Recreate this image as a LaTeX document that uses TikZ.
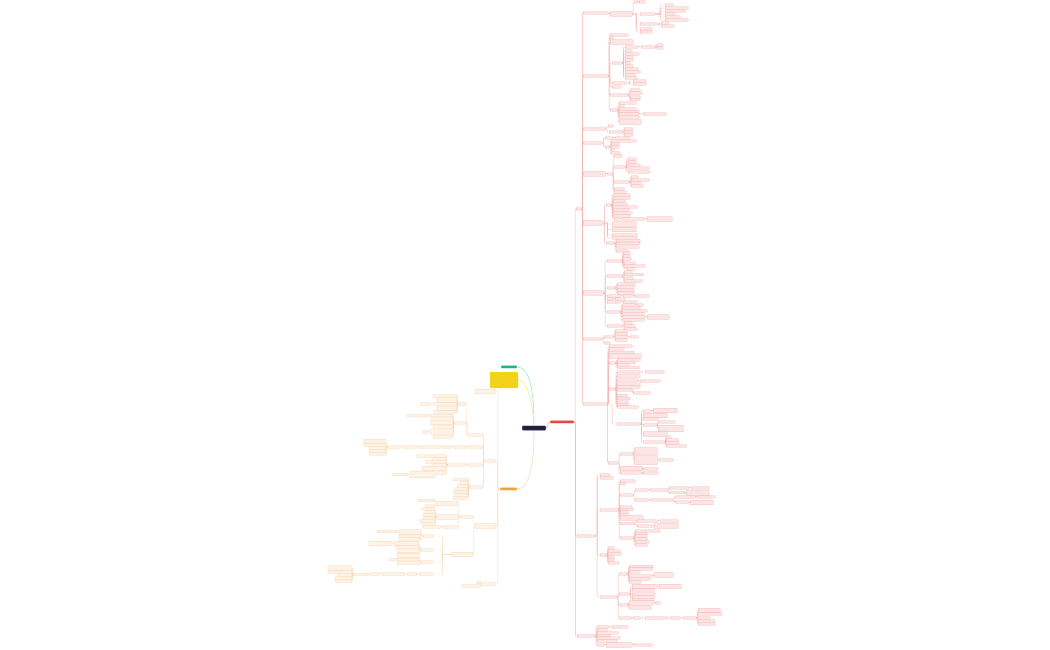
\documentclass[tikz,border=0pt]{standalone}
\usetikzlibrary{calc}
\definecolor{navy}{HTML}{1F2140}
\definecolor{gGreen}{HTML}{20B57E}
\definecolor{rRed}{HTML}{E8483F}
\definecolor{oOr}{HTML}{F0A23C}
\definecolor{yel}{HTML}{F3D21A}
\definecolor{rB}{HTML}{F4AFAB}
\definecolor{rF}{HTML}{FCE6E5}
\definecolor{rL}{HTML}{F5B3AF}
\definecolor{oB}{HTML}{F6D2A8}
\definecolor{oF}{HTML}{FEF3E6}
\definecolor{oL}{HTML}{F8D9B8}
\definecolor{gL}{HTML}{A6E3CB}
\definecolor{yL}{HTML}{F6E7A0}
\tikzset{
 rbox/.style={draw=rB, fill=rF, line width=0.25pt, rounded corners=0.4pt, inner sep=0pt, minimum height=2.3pt},
 obox/.style={draw=oB, fill=oF, line width=0.25pt, rounded corners=0.4pt, inner sep=0pt, minimum height=2.3pt},
 tl/.style={minimum height=4.6pt},
 t3/.style={minimum height=6.6pt},
 t4/.style={minimum height=9pt},
 rline/.style={draw=rL, line width=0.4pt, rounded corners=0.8pt},
 oline/.style={draw=oL, line width=0.4pt, rounded corners=0.8pt},
 rootbox/.style={inner sep=0pt, minimum height=3.2pt, rounded corners=0.8pt, draw=white, line width=0.3pt}
}
\newcommand\Rk[6][]{%
  \node[rbox,#1,minimum width=#6pt,anchor=west] (#2) at (#4,#5) {};
  \draw[rline] (#3.east) -| ($(#3.east)!.5!(#2.west)$) |- (#2.west);}
\newcommand\Lk[6][]{%
  \node[obox,#1,minimum width=#6pt,anchor=east] (#2) at (#4,#5) {};
  \draw[oline] (#3.west) -| ($(#3.west)!.5!(#2.east)$) |- (#2.east);}
\begin{document}
\begin{tikzpicture}[x=1pt,y=-1pt]
\useasboundingbox (0,0) rectangle (1050,650);
\fill[white] (0,0) rectangle (1050,650);
% roots
\node[rootbox, fill=navy, minimum width=24pt, minimum height=5pt] (ctr) at (534,428) {};
\node[rootbox, fill=gGreen, minimum width=16pt] (gn) at (509,367) {};
\node[fill=yel, minimum width=28pt, minimum height=16pt, inner sep=0pt, rounded corners=0.8pt] (yb) at (504,380) {};
\node[rootbox, fill=rRed, minimum width=24pt] (rr) at (562,422) {};
\node[rootbox, fill=oOr, minimum width=17pt] (oo) at (508.5,489) {};
\draw[gL, line width=0.6pt] (ctr.north) .. controls (534,385) and (528,367) .. (gn.east);
\draw[yL, line width=0.6pt] (ctr.north) .. controls (532,395) and (526,380) .. (yb.east);
\draw[rL, line width=0.6pt] (ctr.east) .. controls (548.5,428) and (547.5,422) .. (rr.west);
\draw[oL, line width=0.6pt] (ctr.south) .. controls (534,470) and (528,489) .. (oo.east);
% ===== right tree =====
\Rk{r1}{rr}{576}{209}{6}
\Rk{r2}{rr}{577}{536}{17}
\Rk{r3}{rr}{577}{636}{18}
% a
\Rk{a}{r1}{583}{13}{25}
\Rk[tl]{a1}{a}{610}{14}{22}
\Rk{a11}{a1}{634}{2}{4}
\Rk{a111}{a11}{639}{2}{6}
\Rk{a12}{a1}{640}{14}{15}
\Rk{a121}{a12}{665}{5}{8}
\Rk{a122}{a12}{665}{8}{23}
\Rk{a123}{a12}{665}{11}{20}
\Rk{a124}{a12}{665}{14}{10}
\Rk{a125}{a12}{665}{17}{15}
\Rk{a126}{a12}{665}{20}{23}
\Rk{a13}{a1}{640}{24}{17}
\Rk{a131}{a13}{661}{23}{7}
\Rk{a132}{a13}{661}{26}{13}
\Rk{a14}{a1}{640}{29}{12}
\Rk{a15}{a1}{640}{32}{12}
% b
\Rk{b}{r1}{583}{76}{25}
\Rk{b1}{b}{610}{35}{18}
\Rk{b2}{b}{610}{38}{3}
\Rk[tl]{b3}{b}{610}{42}{23}
\Rk{b4}{b}{612}{63}{10}
\Rk{b41}{b4}{625}{47}{13}
\Rk{b411}{b41}{641}{47}{14}
\Rk{b4111}{b411}{657}{45}{6}
\Rk{b4112}{b411}{657}{48}{6}
\Rk{b42}{b4}{625}{51}{7}
\Rk{b43}{b4}{625}{54}{14}
\Rk{b44}{b4}{625}{57}{8}
\Rk{b45}{b4}{625}{60}{8}
\Rk{b46}{b4}{625}{63}{5}
\Rk{b47}{b4}{625}{66}{8}
\Rk{b48}{b4}{625}{69}{13}
\Rk{b49}{b4}{625}{72}{15}
\Rk{b4a}{b4}{625}{75}{10}
\Rk{b4b}{b4}{625}{78}{12}
\Rk{b5}{b}{612}{83}{14}
\Rk{b51}{b5}{633}{81}{13}
\Rk{b52}{b5}{633}{84}{13}
\Rk{b6}{b}{612}{87}{9}
\Rk{b7}{b}{610}{95}{18}
\Rk{b71}{b7}{630}{90}{10}
\Rk{b72}{b7}{630}{93}{12}
\Rk{b73}{b7}{630}{97}{10}
\Rk{b74}{b7}{630}{99.5}{10}
\Rk{b8}{b}{610}{110}{7}
\Rk{b81}{b8}{619}{103}{17}
\Rk{b82}{b8}{619}{106}{5}
\Rk{b83}{b8}{619}{109}{17}
\Rk{b84}{b8}{619}{111.5}{20}
\Rk{b85}{b8}{619}{114}{20}
\Rk{b851}{b85}{643}{114}{23}
\Rk{b86}{b8}{619}{117}{20}
\Rk[tl]{b87}{b8}{619}{122}{22}
% c
\Rk{c}{r1}{583}{129}{22}
\Rk{c1}{c}{608}{126}{5}
\Rk{c2}{c}{609}{132}{13}
\Rk{c21}{c2}{624}{129}{9}
\Rk{c22}{c2}{624}{132}{9}
\Rk{c23}{c2}{624}{135}{9}
% d
\Rk{d}{r1}{583}{143}{19}
\Rk{d1}{d}{605}{138}{8}
\Rk{d11}{d1}{615}{138}{14}
\Rk{d2}{d}{605}{147}{4}
\Rk{d21}{d2}{611}{141}{25}
\Rk{d22}{d2}{611}{144}{8}
\Rk{d23}{d2}{611}{147}{8}
\Rk{d24}{d2}{611}{150}{3}
\Rk{d25}{d2}{611}{153}{9}
% e
\Rk[tl]{e}{r1}{583}{174}{22}
\Rk{e0}{e}{607}{174}{5}
\Rk{e1}{e0}{614}{156}{8}
\Rk{e2}{e0}{614}{167}{11}
\Rk{e21}{e2}{628}{159}{8}
\Rk{e22}{e2}{628}{162}{8}
\Rk{e23}{e2}{628}{165}{12}
\Rk{e24}{e2}{628}{168}{21}
\Rk{e25}{e2}{628}{172}{22}
\Rk{e3}{e0}{614}{182}{15}
\Rk{e31}{e3}{631}{177}{7}
\Rk{e32}{e3}{631}{180}{18}
\Rk{e33}{e3}{631}{183}{10}
\Rk{e34}{e3}{631}{186}{12}
\Rk{e4}{e0}{614}{189}{10}
\Rk{e5}{e0}{614}{192}{12}
% f
\Rk[tl]{f}{r1}{583}{223}{20}
\Rk{f1}{f}{606}{205}{5}
\Rk{f11}{f1}{613}{195}{17}
\Rk{f12}{f1}{613}{198}{17}
\Rk{f13}{f1}{613}{201}{12}
\Rk{f14}{f1}{613}{204}{14}
\Rk{f15}{f1}{613}{207}{24}
\Rk{f16}{f1}{613}{210}{16}
\Rk{f17}{f1}{613}{213}{19}
\Rk{f18}{f1}{613}{216}{17}
\Rk{f19}{f1}{614}{219}{5}
\Rk{f191}{f19}{622}{219}{23}
\Rk[tl]{f1911}{f191}{647}{219}{25}
\Rk[tl]{f2}{f}{612}{224}{24}
\Rk[tl]{f3}{f}{612}{229.5}{24}
\Rk{f4}{f}{612}{235}{25}
\Rk{f5}{f}{612}{238}{25}
\Rk{f6}{f}{606}{243}{8}
\Rk{f61}{f6}{616}{240.5}{24}
\Rk{f62}{f6}{616}{243.5}{24}
\Rk{f63}{f6}{616}{247}{23}
\Rk{f64}{f6}{616}{251}{12}
% g
\Rk[tl]{g}{r1}{583}{293}{20}
\Rk{g1}{g}{607}{261}{15}
\Rk{g11}{g1}{623}{253}{7}
\Rk{g12}{g1}{623}{256}{7}
\Rk{g13}{g1}{623}{259}{8}
\Rk{g14}{g1}{623}{263}{12}
\Rk{g15}{g1}{623}{266}{22}
\Rk{g16}{g1}{626}{269}{9}
\Rk{g2}{g}{607}{276}{15}
\Rk{g21}{g2}{624}{272}{8}
\Rk{g22}{g2}{624}{274.5}{19}
\Rk{g23}{g2}{624}{278}{9}
\Rk{g24}{g2}{624}{281}{18}
\Rk{g3}{g}{607}{288}{8}
\Rk{g31}{g3}{617}{284}{18}
\Rk{g32}{g3}{617}{287}{17}
\Rk{g33}{g3}{617}{290}{17}
\Rk{g34}{g3}{617}{293}{17}
\Rk{g4}{g}{607}{296}{13}
\Rk{g41}{g4}{623}{296}{10}
\Rk{g411}{g41}{635}{296}{14}
\Rk{g5}{g}{607}{299}{6}
\Rk{g51}{g5}{615}{299}{10}
\Rk{g6}{g}{607}{302}{13}
\Rk{g61}{g6}{623}{302}{14}
\Rk{g7}{g}{607}{312}{13}
\Rk{g71}{g7}{622}{305}{13}
\Rk{g711}{g71}{637}{305}{6}
\Rk{g72}{g7}{622}{308}{18}
\Rk{g73}{g7}{622}{311}{25}
\Rk{g74}{g7}{622}{314}{22}
\Rk{g75}{g7}{622}{317}{23}
\Rk[tl]{g751}{g75}{647}{317}{22}
\Rk{g76}{g7}{622}{320}{22}
\Rk{g8}{g}{607}{326}{15}
\Rk{g81}{g8}{624}{323}{8}
\Rk{g82}{g8}{624}{326}{11}
\Rk{g83}{g8}{624}{329}{13}
% h
\Rk{h}{r1}{583}{339}{19}
\Rk{h1}{h}{604}{337}{9}
\Rk{h11}{h1}{615}{331}{12}
\Rk{h12}{h1}{615}{334}{12}
\Rk{h13}{h1}{615}{337}{13}
\Rk{h131}{h13}{630}{337}{8}
\Rk{h14}{h1}{615}{340}{12}
\Rk{h2}{h}{604}{343}{6}
% i
\Rk{i}{r1}{583}{404}{24}
\Rk{i1}{i}{609}{346}{23}
\Rk{i2}{i}{609}{349}{15}
\Rk{i3}{i}{609}{352.5}{25}
\Rk[tl]{i4}{i}{609}{356}{32}
\Rk{i5}{i}{609}{363}{6}
\Rk{i51}{i5}{617}{360}{23}
\Rk{i52}{i5}{617}{362.5}{18}
\Rk{i53}{i5}{617}{365}{12}
\Rk{i54}{i5}{617}{367.5}{22}
\Rk{i6}{i}{609}{389}{6}
\Rk{i61}{i6}{617}{372}{23}
\Rk{i611}{i61}{645}{372}{19}
\Rk{i62}{i6}{617}{376}{23}
\Rk{i63}{i6}{617}{380}{20}
\Rk{i631}{i63}{640}{381}{20}
\Rk{i64}{i6}{617}{384}{23}
\Rk{i65}{i6}{617}{387}{23}
\Rk{i66}{i6}{617}{390}{15}
\Rk{i661}{i66}{633}{393}{17}
\Rk{i67}{i6}{617}{395.5}{10}
\Rk{i68}{i6}{617}{398.5}{13}
\Rk{i69}{i6}{617}{402}{11}
\Rk{i6a}{i6}{617}{404.5}{11}
\Rk{i6b}{i6}{617}{407}{21}
\Rk{i7}{i}{617}{424}{23}
\Rk{i71}{i7}{643}{411}{8}
\Rk[tl]{i711}{i71}{653}{410.5}{24}
\Rk[tl]{i72}{i7}{643}{415.5}{24}
\Rk{i73}{i7}{643}{419}{15}
\Rk{i74}{i7}{643}{425}{14}
\Rk{i741}{i74}{658}{422}{17}
\Rk[t3]{i742}{i74}{658}{428.5}{25}
\Rk[tl]{i75}{i7}{643}{434}{24}
\Rk{i76}{i7}{643}{442}{22}
\Rk{i761}{i76}{666}{437}{5}
\Rk{i762}{i76}{666}{440}{12}
\Rk{i763}{i76}{666}{443}{13}
\Rk{i764}{i76}{666}{446}{20}
\Rk{i8}{i}{608}{463}{10}
\Rk{i81}{i8}{620}{454}{13}
\Rk[t3]{i811}{i81}{634}{451}{23}
\Rk[t4]{i812}{i81}{634}{460}{23}
\Rk{i8121}{i812}{659}{460}{14}
\Rk[tl]{i82}{i8}{620}{468.5}{22}
\Rk{i821}{i82}{643}{469}{15}
\Rk{i83}{i8}{620}{473}{22}
\Rk{i831}{i83}{643}{473}{15}
% r2
\Rk{r2a}{r2}{600}{475}{10}
\Rk{r2b}{r2}{600}{478}{13}
\Rk{r2c}{r2}{600}{510}{18}
\Rk{r2c1}{r2c}{620}{481}{15}
\Rk{r2c2}{r2c}{620}{483.5}{5}
\Rk{r2c3}{r2c}{620}{495}{13}
\Rk{r2c31}{r2c3}{635}{490}{13}
\Rk{r2c311}{r2c31}{650}{490}{17}
\Rk{r2c3111}{r2c311}{669}{488}{20}
\Rk{r2c31111}{r2c3111}{691}{488}{18}
\Rk{r2c3112}{r2c311}{669}{492.5}{15}
\Rk[tl]{r2c31121}{r2c3112}{686}{493}{23}
\Rk{r2c32}{r2c3}{635}{500}{14}
\Rk{r2c321}{r2c32}{651}{500}{22}
\Rk{r2c3211}{r2c321}{675}{497}{20}
\Rk{r2c32111}{r2c3211}{697}{497}{18}
\Rk{r2c3212}{r2c321}{675}{502}{13}
\Rk[tl]{r2c32121}{r2c3212}{690}{502.5}{23}
\Rk{r2c4}{r2c}{620}{507}{12}
\Rk{r2c5}{r2c}{620}{509.5}{13}
\Rk{r2c6}{r2c}{620}{512}{8}
\Rk{r2c7}{r2c}{620}{514.5}{8}
\Rk[tl]{r2c8}{r2c}{620}{518}{23}
\Rk{r2c9}{r2c}{620}{523.5}{15}
\Rk{r2c91}{r2c9}{637}{521}{20}
\Rk{r2c911}{r2c91}{660}{521}{18}
\Rk{r2c92}{r2c9}{637}{526}{15}
\Rk[tl]{r2c921}{r2c92}{654}{526}{24}
\Rk{r2ca}{r2c}{620}{538}{13}
\Rk{r2ca1}{r2ca}{635}{531}{25}
\Rk{r2ca2}{r2ca}{635}{533.5}{12}
\Rk{r2ca3}{r2ca}{635}{536}{12}
\Rk{r2ca4}{r2ca}{635}{539}{12}
\Rk{r2ca5}{r2ca}{635}{542}{14}
\Rk{r2ca6}{r2ca}{635}{545}{12}
\Rk{r2d}{r2}{600}{555}{7}
\Rk{r2d1}{r2d}{608}{548}{6}
\Rk{r2d2}{r2d}{608}{551}{12}
\Rk{r2d3}{r2d}{608}{554}{13}
\Rk{r2d4}{r2d}{608}{557}{6}
\Rk{r2d5}{r2d}{608}{560}{6}
\Rk{r2d6}{r2d}{608}{563}{11}
\Rk{r2e}{r2}{600}{597}{17}
\Rk{r2e1}{r2e}{619}{574}{9}
\Rk{r2e11}{r2e1}{629}{566.5}{24}
\Rk{r2e12}{r2e1}{629}{569}{23}
\Rk{r2e13}{r2e1}{629}{572}{11}
\Rk{r2e14}{r2e1}{629}{576}{23}
\Rk[tl]{r2e141}{r2e14}{654}{575}{19}
\Rk{r2e15}{r2e1}{629}{579}{21}
\Rk{r2e16}{r2e1}{629}{582}{12}
\Rk{r2e2}{r2e}{619}{594}{10}
\Rk[tl]{r2e21}{r2e2}{632}{586.5}{25}
\Rk[tl]{r2e211}{r2e21}{659}{586.5}{22}
\Rk{r2e22}{r2e2}{632}{590}{22}
\Rk{r2e23}{r2e2}{632}{594}{23}
\Rk{r2e24}{r2e2}{632}{597}{22}
\Rk{r2e25}{r2e2}{632}{599.5}{22}
\Rk{r2e3}{r2e}{619}{605}{9}
\Rk[tl]{r2e31}{r2e3}{629}{603}{24}
\Rk{r2e311}{r2e31}{655}{603}{5}
\Rk{r2e32}{r2e3}{629}{608}{22}
\Rk{r2e4}{r2e}{619}{618}{12}
\Rk{r2e41}{r2e4}{633}{618}{7}
\Rk{r2e411}{r2e41}{645}{618}{22}
\Rk{r2e4111}{r2e411}{670}{618}{10}
\Rk{r2e41111}{r2e4111}{683}{618}{13}
\Rk[tl]{q1}{r2e41111}{698}{610.5}{22}
\Rk{q2}{r2e41111}{698}{614}{24}
\Rk{q3}{r2e41111}{698}{618}{12}
\Rk{q4}{r2e41111}{698}{621}{17}
\Rk{q5}{r2e41111}{698}{624}{17}
% r3
\Rk{r3a}{r3}{597}{627}{12}
\Rk{r3a1}{r3a}{612}{627}{16}
\Rk{r3b}{r3}{597}{630}{10}
\Rk{r3c}{r3}{597}{633}{21}
\Rk{r3d}{r3}{597}{635.5}{13}
\Rk{r3e}{r3}{597}{638}{23}
\Rk{r3f}{r3}{597}{641}{20}
\Rk{r3g}{r3}{597}{645}{7}
\Rk[tl]{r3g1}{r3g}{606}{645}{26}
\Rk{r3g11}{r3g1}{634}{645}{18}
% ===== left tree =====
\Lk[tl]{o1}{oo}{496}{391.5}{21}
\Lk{o2}{oo}{496}{461}{12}
\Lk{o2a}{o2}{483}{435}{15}
\Lk{o2a1}{o2a}{466}{404}{8}
\Lk{o2a11}{o2a1}{457}{396}{24}
\Lk[tl]{o2a12}{o2a1}{457}{400}{20}
\Lk{o2a13}{o2a1}{457}{404}{24}
\Lk{o2a131}{o2a13}{430}{404}{10}
\Lk[tl]{o2a14}{o2a1}{457}{408.5}{20}
\Lk{o2a15}{o2a1}{457}{412}{24}
\Lk{o2a2}{o2a}{466}{423}{12}
\Lk{o2a21}{o2a2}{453}{415.5}{24}
\Lk{o2a211}{o2a21}{427}{415.5}{20}
\Lk{o2a22}{o2a2}{453}{419}{22}
\Lk[tl]{o2a23}{o2a2}{453}{422.5}{22}
\Lk{o2a24}{o2a2}{453}{427}{20}
\Lk[tl]{o2a25}{o2a2}{453}{432}{23}
\Lk{o2a251}{o2a25}{428}{432}{5}
\Lk{o2a26}{o2a2}{453}{437}{20}
\Lk{o2b}{o2}{483}{447}{15}
\Lk{o2b1}{o2b}{466}{447}{12}
\Lk{o2b2}{o2b1}{452}{447}{9}
\Lk{o2b3}{o2b2}{441}{447}{22}
\Lk{o2b4}{o2b3}{417}{447}{13}
\Lk{o2b5}{o2b4}{401}{447}{13}
\Lk[tl]{o2b51}{o2b5}{386}{441.5}{22}
\Lk{o2b52}{o2b5}{386}{445}{22}
\Lk{o2b53}{o2b5}{386}{448}{17}
\Lk{o2b54}{o2b5}{386}{451}{17}
\Lk{o2b55}{o2b5}{386}{454}{17}
\Lk{o2c}{o2}{483}{465}{15}
\Lk{o2c1}{o2c}{466}{465}{18}
\Lk{o2c11}{o2c1}{446}{456}{12}
\Lk{o2c111}{o2c11}{431}{456}{15}
\Lk{o2c12}{o2c1}{446}{459}{14}
\Lk{o2c13}{o2c1}{446}{462}{21}
\Lk{o2c14}{o2c1}{446}{465}{14}
\Lk[tl]{o2c15}{o2c1}{446}{468.5}{24}
\Lk{o2c16}{o2c1}{446}{473}{9}
\Lk[t3]{o2c161}{o2c16}{435}{474.5}{25}
\Lk{o2c1611}{o2c161}{408}{474.5}{16}
\Lk{o2d}{o2}{483}{487}{14}
\Lk{o2d1}{o2d}{468}{479.5}{15}
\Lk{o2d2}{o2d}{468}{483}{8}
\Lk{o2d3}{o2d}{468}{486}{11}
\Lk{o2d4}{o2d}{468}{489}{13}
\Lk{o2d5}{o2d}{468}{492}{15}
\Lk{o2d6}{o2d}{468}{495}{13}
\Lk{o2d7}{o2d}{468}{498}{15}
\Lk[tl]{o3}{oo}{496}{526}{21}
\Lk{o3a}{o3}{473}{517}{13}
\Lk[tl]{o3a1}{o3a}{458}{503.5}{21}
\Lk{o3a11}{o3a1}{435}{500.5}{17}
\Lk{o3a12}{o3a1}{435}{506}{10}
\Lk[tl]{o3a2}{o3a}{458}{517}{21}
\Lk{o3a21}{o3a2}{435}{509}{13}
\Lk{o3a22}{o3a2}{435}{512}{10}
\Lk{o3a23}{o3a2}{435}{515}{12}
\Lk{o3a24}{o3a2}{435}{518}{12}
\Lk{o3a25}{o3a2}{435}{521}{15}
\Lk{o3a26}{o3a2}{435}{524}{13}
\Lk{o3a3}{o3a}{458}{527}{15}
\Lk{o3a31}{o3a3}{441}{527}{18}
\Lk[tl]{o3b}{o3}{473}{554.5}{21}
\Lk{o3b1}{o3b}{433}{536}{10}
\Lk[tl]{o3b11}{o3b1}{421}{532}{22}
\Lk{o3b111}{o3b11}{397}{531.5}{20}
\Lk{o3b12}{o3b1}{421}{536}{22}
\Lk{o3b13}{o3b1}{421}{539}{22}
\Lk{o3b2}{o3b}{433}{550}{12}
\Lk[tl]{o3b21}{o3b2}{419}{543.5}{25}
\Lk[tl]{o3b211}{o3b21}{392}{543.5}{23}
\Lk{o3b22}{o3b2}{419}{547}{23}
\Lk[tl]{o3b23}{o3b2}{419}{550.5}{22}
\Lk[tl]{o3b24}{o3b2}{419}{555.5}{22}
\Lk{o3b3}{o3b}{433}{562}{11}
\Lk{o3b31}{o3b3}{420}{559.5}{23}
\Lk{o3b311}{o3b31}{395}{559.5}{6}
\Lk{o3b32}{o3b3}{420}{563}{23}
\Lk{o3b4}{o3b}{433}{574}{14}
\Lk{o3b41}{o3b4}{417}{574}{10}
\Lk{o3b42}{o3b41}{405}{574}{23}
\Lk{o3b43}{o3b42}{380}{574}{11}
\Lk{o3b44}{o3b43}{367}{574.5}{14}
\Lk[tl]{o3b441}{o3b44}{352}{568}{24}
\Lk{o3b442}{o3b44}{352}{572}{24}
\Lk{o3b443}{o3b44}{352}{575}{14}
\Lk{o3b444}{o3b44}{352}{578}{17}
\Lk{o3b445}{o3b44}{352}{581}{17}
\Lk{o4}{oo}{496}{584}{13}
\Lk{o4a}{o4}{481}{582.5}{4}
\Lk{o4b}{o4}{481}{586}{19}
\end{tikzpicture}
\end{document}
